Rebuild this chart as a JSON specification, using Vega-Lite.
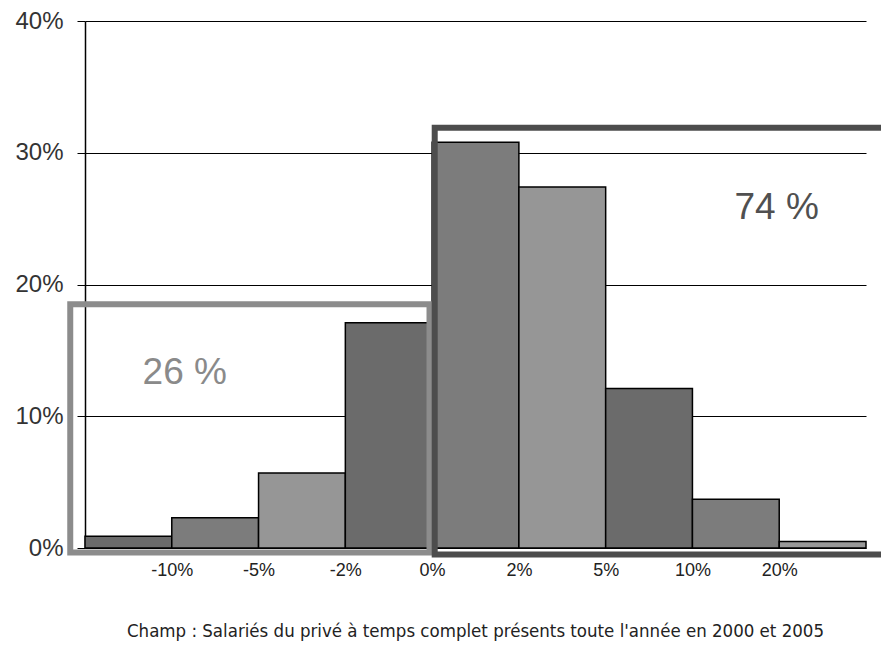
{
  "$schema": "https://vega.github.io/schema/vega-lite/v6.json",
  "width": 781,
  "height": 527,
  "autosize": "none",
  "padding": {"left": 85, "top": 21, "right": 15, "bottom": 103},
  "background": "white",
  "config": {"view": {"stroke": null}, "font": "Liberation Sans"},
  "title": {
    "text": "Champ : Salariés du privé à temps complet présents toute l'année en 2000 et 2005",
    "orient": "bottom",
    "anchor": "middle",
    "offset": 43,
    "fontSize": 18.5,
    "font": "'DejaVu Sans Condensed', 'Liberation Sans Narrow', 'Liberation Sans', sans-serif",
    "fontWeight": "normal",
    "color": "#222222"
  },
  "datasets": {
    "bins": [
      {"from": 0, "to": 1, "range": "< -10%", "share": 0.9},
      {"from": 1, "to": 2, "range": "-10% à -5%", "share": 2.3},
      {"from": 2, "to": 3, "range": "-5% à -2%", "share": 5.7},
      {"from": 3, "to": 4, "range": "-2% à 0%", "share": 17.1},
      {"from": 4, "to": 5, "range": "0% à 2%", "share": 30.8},
      {"from": 5, "to": 6, "range": "2% à 5%", "share": 27.4},
      {"from": 6, "to": 7, "range": "5% à 10%", "share": 12.1},
      {"from": 7, "to": 8, "range": "10% à 20%", "share": 3.7},
      {"from": 8, "to": 9, "range": "> 20%", "share": 0.5}
    ]
  },
  "layer": [
    {
      "data": {"name": "bins"},
      "mark": {"type": "rect", "stroke": "#000000", "strokeWidth": 1.5},
      "encoding": {
        "x": {
          "field": "from",
          "type": "quantitative",
          "scale": {"domain": [0, 9], "nice": false, "zero": false},
          "axis": {
            "values": [1, 2, 3, 4, 5, 6, 7, 8],
            "labelExpr": "['','-10%','-5%','-2%','0%','2%','5%','10%','20%'][datum.value]",
            "ticks": false,
            "domain": false,
            "grid": false,
            "title": null,
            "labelFontSize": 18,
            "labelColor": "#222222",
            "labelPadding": 13,
            "labelDx": 5,
            "labelFlush": false
          }
        },
        "x2": {"field": "to"},
        "y": {
          "field": "share",
          "type": "quantitative",
          "scale": {"domain": [0, 40], "nice": false},
          "axis": {
            "values": [0, 10, 20, 30, 40],
            "labelExpr": "datum.value + '%'",
            "grid": true,
            "gridColor": "#000000",
            "gridWidth": 1,
            "gridOpacity": 1,
            "domain": true,
            "domainColor": "#000000",
            "domainWidth": 1.5,
            "ticks": true,
            "tickColor": "#000000",
            "tickSize": 8,
            "labelFontSize": 24,
            "labelColor": "#333333",
            "labelPadding": 14,
            "labelFlush": false,
            "title": null
          }
        },
        "y2": {"datum": 0},
        "color": {
          "field": "range",
          "type": "nominal",
          "scale": {
            "domain": ["< -10%", "-10% à -5%", "-5% à -2%", "-2% à 0%", "0% à 2%", "2% à 5%", "5% à 10%", "10% à 20%", "> 20%"],
            "range": ["#6b6b6b", "#7c7c7c", "#969696", "#6b6b6b", "#7c7c7c", "#969696", "#6b6b6b", "#7c7c7c", "#999999"]
          },
          "legend": null
        }
      }
    },
    {
      "data": {"values": [{}]},
      "mark": {"type": "rect", "fill": "transparent", "stroke": "#8c8c8c", "strokeWidth": 6},
      "encoding": {
        "x": {"datum": -0.17, "type": "quantitative"},
        "x2": {"datum": 3.97},
        "y": {"datum": 18.5, "type": "quantitative"},
        "y2": {"datum": -0.35}
      }
    },
    {
      "data": {"values": [{}]},
      "mark": {"type": "rect", "fill": "transparent", "stroke": "#4d4d4d", "strokeWidth": 6},
      "encoding": {
        "x": {"datum": 4.03, "type": "quantitative"},
        "x2": {"datum": 9.3},
        "y": {"datum": 31.9, "type": "quantitative"},
        "y2": {"datum": -0.5}
      }
    },
    {
      "data": {"values": [{}]},
      "mark": {"type": "text", "fontSize": 37, "color": "#8a8a8a", "align": "center", "baseline": "middle"},
      "encoding": {
        "x": {"datum": 1.15, "type": "quantitative"},
        "y": {"datum": 13.3, "type": "quantitative"},
        "text": {"value": "26 %"}
      }
    },
    {
      "data": {"values": [{}]},
      "mark": {"type": "text", "fontSize": 37, "color": "#505050", "align": "center", "baseline": "middle"},
      "encoding": {
        "x": {"datum": 7.97, "type": "quantitative"},
        "y": {"datum": 25.8, "type": "quantitative"},
        "text": {"value": "74 %"}
      }
    }
  ]
}
